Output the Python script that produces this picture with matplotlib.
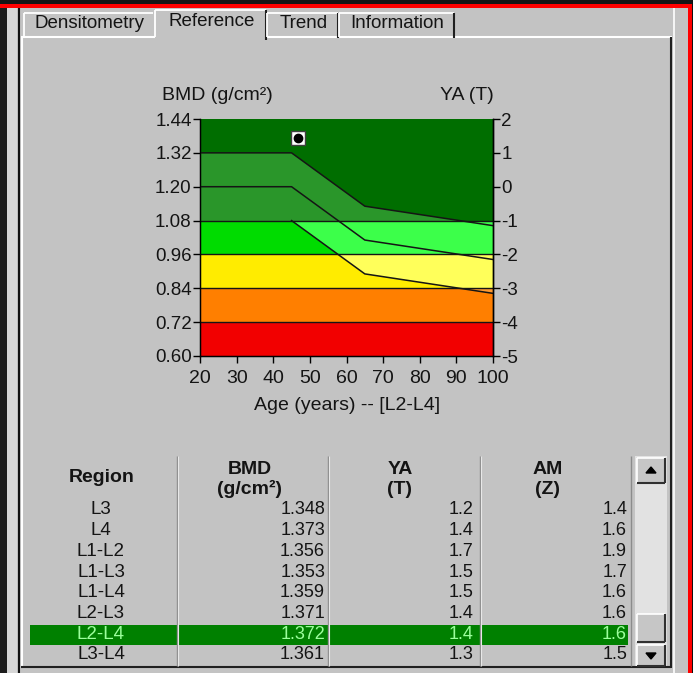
import matplotlib
matplotlib.use('Agg')
import matplotlib.pyplot as plt
from matplotlib.patches import Rectangle, Polygon

plt.rcParams['font.family'] = ['Liberation Sans', 'DejaVu Sans']
plt.rcParams['axes.unicode_minus'] = False

# reference curves (age in years, BMD in g/cm2)
age_knots = [20, 45, 65, 100]
bmd_upper = [1.32, 1.32, 1.131, 1.062]
bmd_mean = [1.20, 1.20, 1.011, 0.942]
age_low = [45, 65, 100]
bmd_low = [1.08, 0.891, 0.822]

band_edges = [0.60, 0.72, 0.84, 0.96, 1.08, 1.44]
band_colors = ['#f20000', '#ff7f00', '#ffec00', '#00dc00', '#2a962a']
light_colors = [None, '#ff9a30', '#ffff5a', '#3cff4a', None]
dark_green = '#006e00'

bmd_ticks = [0.60, 0.72, 0.84, 0.96, 1.08, 1.20, 1.32, 1.44]
t_ticks = [-5, -4, -3, -2, -1, 0, 1, 2]
age_ticks = [20, 30, 40, 50, 60, 70, 80, 90, 100]

patient_age = 46.8
patient_bmd = 1.372

# table
regions = ['L3', 'L4', 'L1-L2', 'L1-L3', 'L1-L4', 'L2-L3', 'L2-L4', 'L3-L4']
bmd_vals = ['1.348', '1.373', '1.356', '1.353', '1.359', '1.371', '1.372', '1.361']
ya_vals = ['1.2', '1.4', '1.7', '1.5', '1.5', '1.4', '1.4', '1.3']
am_vals = ['1.4', '1.6', '1.9', '1.7', '1.6', '1.6', '1.6', '1.5']
selected = 'L2-L4'
tabs = ['Densitometry', 'Reference', 'Trend', 'Information']

W, H = 693, 673
fig = plt.figure(figsize=(W / 100, H / 100), dpi=100, facecolor='#c3c3c3')
txt = '#141414'

# ---- window chrome, drawn in pixel coords ----
ui = fig.add_axes([0, 0, 1, 1], zorder=0)
ui.set_xlim(0, W)
ui.set_ylim(H, 0)
ui.axis('off')


def rect(x, y, w, h, c, z=1):
    ui.add_patch(Rectangle((x, y), w, h, facecolor=c, edgecolor='none', zorder=z))


def line(xs, ys, c, lw=1.0, z=2):
    ui.plot(xs, ys, color=c, lw=lw, zorder=z, solid_capstyle='butt')


rect(0, 0, W, 3.5, '#151515')
rect(0, 3.5, W, 4.5, '#ff0000', 5)
rect(687.5, 3.5, 4, H, '#ff0000', 5)
rect(691.5, 0, 2, H, '#101010', 5)
rect(0, 8, 7, H, '#1c1c1c')
rect(7, 8, 10, H, '#d6d6d6')
line([18.5, 18.5], [8, H], '#101010', 1.5)

# tab panel frame
line([21, 672], [37, 37], 'white', 1.5)
line([22, 22], [37, 667], 'white', 1.5)
line([671, 671], [37, 668], '#202020', 1.5)
line([674, 674], [8, H], 'white', 1.2)
line([21, 671], [667, 667], '#202020', 1.5)

# tabs
tab_lr = [(24, 153), (155, 266), (267, 338), (339, 454)]
for i, (name, (l, r)) in enumerate(zip(tabs, tab_lr)):
    top = 10 if name == 'Reference' else 13
    if name == 'Reference':
        rect(l, top, r - l, 29, '#c3c3c3', 3)
    line([l, l], [37, top], 'white', 1.3, 4)
    line([l, r], [top, top], 'white', 1.3, 4)
    if i > 0:
        line([r, r], [top, 38 if name != 'Reference' else 40], '#202020', 1.5, 4)
    ty = 21 if name == 'Reference' else 24
    ui.text((l + r) / 2 + 1, ty, name, ha='center', va='center', fontsize=13.5,
            color=txt, zorder=5)

# chart titles
ui.text(217, 95, 'BMD (g/cm²)', ha='center', va='center', fontsize=14, color=txt)
ui.text(467, 95, 'YA (T)', ha='center', va='center', fontsize=14, color=txt)
ui.text(347, 406, 'Age (years) -- [L2-L4]', ha='center', va='center', fontsize=14,
        color=txt)

# ---- table ----
col_sep = [177, 328, 480, 631]
hl_y = 625
rect(30, hl_y, 598, 20, '#008000', 1)
for x in col_sep[:3]:
    line([x, x], [456, 666], '#8c8c8c', 1.0, 2)
    line([x + 1.3, x + 1.3], [456, 666], '#e8e8e8', 0.8, 2)
line([col_sep[3], col_sep[3]], [456, 666], '#8c8c8c', 1.0, 2)

hdr = dict(ha='center', va='center', fontsize=14, fontweight='bold', color=txt)
ui.text(102, 478, 'Region', **hdr)
for x, top, bot in [(250, 'BMD', '(g/cm²)'), (400, 'YA', '(T)'), (548, 'AM', '(Z)')]:
    ui.text(x, 469, top, **hdr)
    ui.text(x, 489, bot, **hdr)

row_y0, row_dy = 510, 20.7
for i, reg in enumerate(regions):
    y = row_y0 + i * row_dy
    c = '#9cff9c' if reg == selected else txt
    ui.text(101, y, reg, ha='center', va='center', fontsize=13.5, color=c, zorder=3)
    ui.text(325, y, bmd_vals[i], ha='right', va='center', fontsize=13, color=c, zorder=3)
    ui.text(473, y, ya_vals[i], ha='right', va='center', fontsize=13, color=c, zorder=3)
    ui.text(627, y, am_vals[i], ha='right', va='center', fontsize=13, color=c, zorder=3)

# scrollbar
rect(635, 456, 32, 211, '#e2e2e2', 1)
for (y, h) in [(458, 25), (614, 28), (645, 21)]:
    rect(637, y, 28, h, '#c6c6c6', 2)
    line([637, 665], [y, y], 'white', 1.2, 3)
    line([637, 637], [y, y + h], 'white', 1.2, 3)
    line([637, 665], [y + h, y + h], '#303030', 1.5, 3)
    line([665, 665], [y, y + h], '#303030', 1.5, 3)
ui.fill([646, 656, 651], [473, 473, 467], color='black', zorder=4)
ui.fill([646, 656, 651], [653, 653, 659], color='black', zorder=4)

# ---- chart ----
ax = fig.add_axes([200 / W, 1 - 356 / H, 293 / W, 237 / H], zorder=2)
ax.set_xlim(20, 100)
ax.set_ylim(0.60, 1.44)

# top band, then dark green above the +1 curve, then lower bands
ax.axhspan(band_edges[4], band_edges[5], color=band_colors[4], lw=0, zorder=0.1)
ax.add_patch(Polygon(list(zip(age_knots, bmd_upper)) + [(100, 1.44), (20, 1.44)],
                     closed=True, facecolor=dark_green, edgecolor='none', zorder=0.2))
for lo, hi, c in zip(band_edges[:4], band_edges[1:5], band_colors[:4]):
    ax.axhspan(lo, hi, color=c, lw=0, zorder=0.3)

# lighter tint above the lowest curve
clip = Polygon(list(zip(age_low, bmd_low)) + [(100, 1.44), (45, 1.44)], closed=True,
               transform=ax.transData)
for lo, hi, c in zip(band_edges[:4], band_edges[1:5], light_colors[:4]):
    if c is None:
        continue
    r = ax.axhspan(lo, hi, color=c, lw=0, zorder=0.4)
    r.set_clip_path(clip)

for y in band_edges[1:5]:
    ax.axhline(y, color='#151515', lw=1.0, zorder=2)
ax.plot(age_knots, bmd_upper, color='#151515', lw=1.1, zorder=3)
ax.plot(age_knots, bmd_mean, color='#151515', lw=1.1, zorder=3)
ax.plot(age_low, bmd_low, color='#151515', lw=1.1, zorder=3)

ax.plot(patient_age, patient_bmd, marker='s', ms=10, mfc='white', mec='#404040',
        mew=1.0, zorder=5, ls='none')
ax.plot(patient_age, patient_bmd, marker='o', ms=6, color='black', zorder=6, ls='none')

ax.set_xticks(age_ticks)
ax.set_xticklabels([str(a) for a in age_ticks])
ax.set_yticks(bmd_ticks)
ax.set_yticklabels(['%.2f' % b for b in bmd_ticks])
ax.tick_params(direction='out', length=5, width=1, colors='black', labelsize=13.5,
               labelcolor=txt, pad=1)
ax.tick_params(axis='x', pad=5, labelsize=14)
ax.spines['top'].set_visible(False)
for s in ['left', 'right', 'bottom']:
    ax.spines[s].set_color('black')
    ax.spines[s].set_linewidth(1.0)

ax2 = ax.twinx()
ax2.set_ylim(-5, 2)
ax2.set_yticks(t_ticks)
ax2.set_yticklabels([str(t) for t in t_ticks])
ax2.tick_params(direction='out', length=5, width=1, colors='black', labelsize=13.5,
                labelcolor=txt, pad=1)
ax2.spines['top'].set_visible(False)
ax2.spines['right'].set_linewidth(1.0)

fig.savefig('out.png', dpi=100, facecolor=fig.get_facecolor())
